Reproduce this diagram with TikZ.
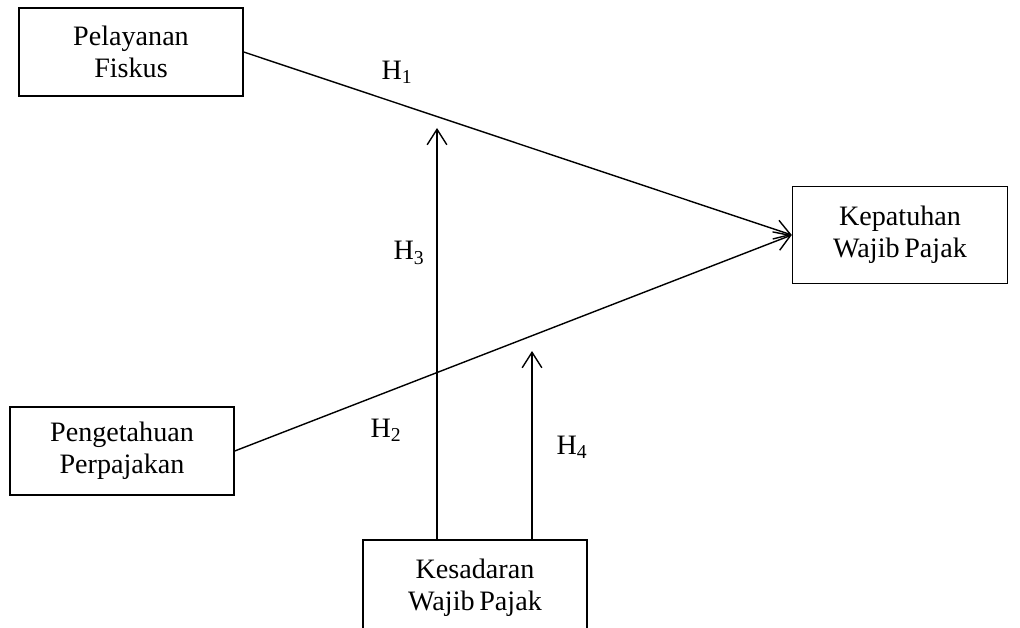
\documentclass[tikz,border=0pt]{standalone}
\usepackage{fontspec}
\setmainfont{Liberation Serif}
\usetikzlibrary{arrows.meta}

\begin{document}
\begin{tikzpicture}[x=0.025cm, y=-0.025cm,
  font=\fontsize{20}{23}\selectfont, line width=1pt,
  every box/.style={draw, align=center, minimum width=5.6cm, minimum height=2.2cm},
  link/.style={-{Straight Barb[length=11pt, width=14pt]}}]
  \useasboundingbox (0,0) rectangle (1020,628);

  \node [every box] (pelayanan) at (131, 52) {Pelayanan\\Fiskus};
  \node [every box] (pengetahuan) at (122, 451) {Pengetahuan\\Perpajakan};
  \node [every box, minimum width=5.375cm, minimum height=2.425cm]
    (kepatuhan) at (900, 235) {Kepatuhan\\Wajib\,Pajak};
  \node [every box, minimum height=2.4cm] (kesadaran) at (475, 588)
    {Kesadaran\\Wajib\,Pajak};

  \coordinate (h3-tip) at (437, 128);
  \coordinate (h4-tip) at (532, 351);

  \foreach \f in {pelayanan, pengetahuan}
    \draw [link] (\f.east) -- (kepatuhan.west);
  \draw [link] (kesadaran.north -| h3-tip) -- (h3-tip);
  \draw [link] (kesadaran.north -| h4-tip) -- (h4-tip);

  \foreach \l/\x/\y in {1/397/72, 2/386/430, 3/409/253, 4/572/447}
    \node (label-\l) at (\x, \y) {H\textsubscript{\l}};
\end{tikzpicture}
\end{document}
